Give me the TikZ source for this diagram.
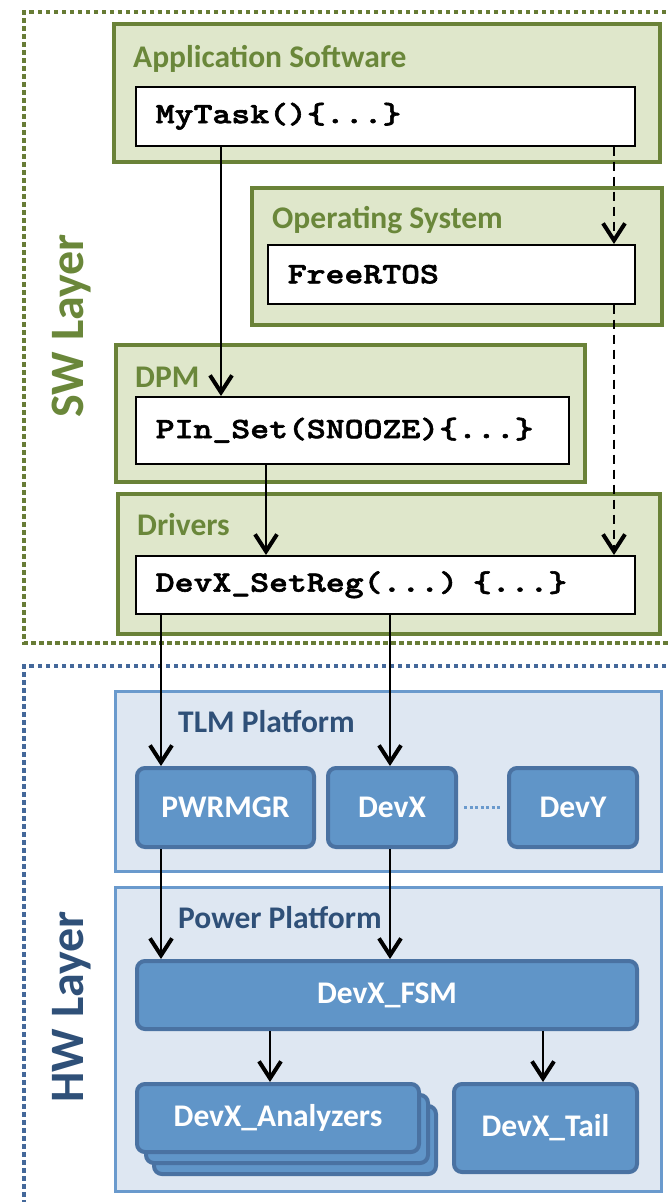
\documentclass[tikz,border=0pt]{standalone}
\usepackage{fontspec}
\setmainfont{Carlito}
\newfontfamily\codefont{lmmonolt10-bold.otf}[FakeStretch=1.22, FakeBold=2]
\usetikzlibrary{arrows.meta}

\definecolor{swline}{HTML}{6A8238}
\definecolor{swfill}{HTML}{DFE7CB}
\definecolor{swtext}{HTML}{6A873A}
\definecolor{swdots}{HTML}{687C36}
\definecolor{hwline}{HTML}{6A9ACD}
\definecolor{hwfill}{HTML}{DEE7F2}
\definecolor{hwtext}{HTML}{2F5078}
\definecolor{hwdots}{HTML}{44689A}
\definecolor{devfill}{HTML}{6095C8}
\definecolor{devline}{HTML}{4A72A2}

\tikzset{
  swbox/.style={draw=swline, fill=swfill, line width=4pt, inner sep=0pt, anchor=north west},
  codebox/.style={draw=black, fill=white, line width=1.5pt, anchor=north west,
    inner ysep=0pt, inner xsep=20pt, align=left,
    font=\codefont\fontsize{29.5}{34}\selectfont},
  swtitle/.style={text=swtext, anchor=base west, inner sep=0pt,
    font=\bfseries\fontsize{31.5}{36}\selectfont},
  layertext/.style={anchor=base, rotate=90, inner sep=0pt,
    font=\bfseries\fontsize{48}{52}\selectfont},
  hwbox/.style={draw=hwline, fill=hwfill, line width=3pt, inner sep=0pt, anchor=north west},
  hwtitle/.style={text=hwtext, anchor=base west, inner sep=0pt,
    font=\bfseries\fontsize{31.5}{36}\selectfont},
  devbox/.style={draw=devline, fill=devfill, line width=4pt, rounded corners=8pt,
    inner sep=0pt, anchor=north west, text=white,
    font=\bfseries\fontsize{31.5}{36}\selectfont},
  flow/.style={line width=2.3pt, -{Straight Barb[length=17pt,width=22pt,line width=4pt]}},
  flowdash/.style={flow, dash pattern=on 9pt off 6pt},
  layerframe/.style={line width=4.5pt, dash pattern=on 4.5pt off 3.5pt},
}

\begin{document}
\begin{tikzpicture}[x=1pt, y=-1pt]
\useasboundingbox (0,0) rectangle (668,1202);
\clip (0,0) rectangle (668,1202);

% layer frames
\draw[layerframe, swdots] (690,12) -- (24,12) -- (24,643) -- (690,643);
\draw[layerframe, hwdots] (690,666) -- (24,666) -- (24,1220);
\node[layertext, text=swtext] (swlabel) at (83,326) {SW Layer};
\node[layertext, text=hwtext] (hwlabel) at (83,1007) {HW Layer};

% software stack
\node[swbox, minimum width=546, minimum height=138] (app) at (112,22) {};
\node[swtitle] (apptitle) at (133,67) {Application Software};
\node[codebox, minimum height=59, text width=459] (mytask) at (135,86) {MyTask()\{...\}};

\node[swbox, minimum width=410, minimum height=137] (os) at (250,186) {};
\node[swtitle] (ostitle) at (272,228) {Operating System};
\node[codebox, minimum height=59, text width=327] (freertos) at (267,244) {FreeRTOS};

\node[swbox, minimum width=469, minimum height=137] (dpm) at (114,343) {};
\node[swtitle] (dpmtitle) at (135,387) {DPM};
\node[codebox, minimum height=67, text width=393] (pinset) at (135,396) {PIn\_Set(SNOOZE)\{...\}};

\node[swbox, minimum width=542, minimum height=140] (drv) at (116,492) {};
\node[swtitle] (drvtitle) at (137,535) {Drivers};
\node[codebox, minimum height=58, text width=459] (setreg) at (135,555) {DevX\_SetReg(...) \{...\}};

% hardware platforms
\node[hwbox, minimum width=546, minimum height=180] (tlm) at (114,690) {};
\node[hwtitle] (tlmtitle) at (178,732) {TLM Platform};
\node[devbox, minimum width=177, minimum height=79] (pwrmgr) at (135,766) {PWRMGR};
\node[devbox, minimum width=128, minimum height=79] (devx) at (326,766) {DevX};
\node[devbox, minimum width=128, minimum height=79] (devy) at (507,766) {DevY};

\node[hwbox, minimum width=546, minimum height=304] (pwr) at (114,886) {};
\node[hwtitle] (pwrtitle) at (178,928) {Power Platform};
\node[devbox, minimum width=500, minimum height=68] (fsm) at (135,959) {DevX\_FSM};
\node[devbox, minimum width=282, minimum height=68] (an3) at (152,1104) {};
\node[devbox, minimum width=282, minimum height=68] (an2) at (144,1093) {};
\node[devbox, minimum width=282, minimum height=68] (an1) at (135,1082) {DevX\_Analyzers};
\node[devbox, minimum width=183, minimum height=88] (tail) at (452,1082) {DevX\_Tail};

% connector columns
\coordinate (xa) at (221,0);
\coordinate (xb) at (614,0);
\coordinate (xc) at (266,0);
\coordinate (xd) at (161,0);
\coordinate (xe) at (390,0);
\coordinate (xf) at (270,0);
\coordinate (xg) at (543,0);

% software calls
\draw[flow] (mytask.south -| xa) -- (pinset.north -| xa);
\draw[flowdash] (mytask.south -| xb) -- (freertos.north -| xb);
\draw[flowdash] (freertos.south -| xb) -- (setreg.north -| xb);
\draw[flow] (pinset.south -| xc) -- (setreg.north -| xc);

% software to hardware
\draw[flow] (setreg.south -| xd) -- (pwrmgr.north -| xd);
\draw[flow] (setreg.south -| xe) -- (devx.north -| xe);
\draw[flow] (pwrmgr.south -| xd) -- (fsm.north -| xd);
\draw[flow] (devx.south -| xe) -- (fsm.north -| xe);
\draw[flow] (fsm.south -| xf) -- (an1.north -| xf);
\draw[flow] (fsm.south -| xg) -- (tail.north -| xg);

% further devices
\draw[hwline, line width=3pt, dash pattern=on 3pt off 2.5pt, shorten <=6pt, shorten >=5pt] (devx.east) -- (devy.west);
\end{tikzpicture}
\end{document}
